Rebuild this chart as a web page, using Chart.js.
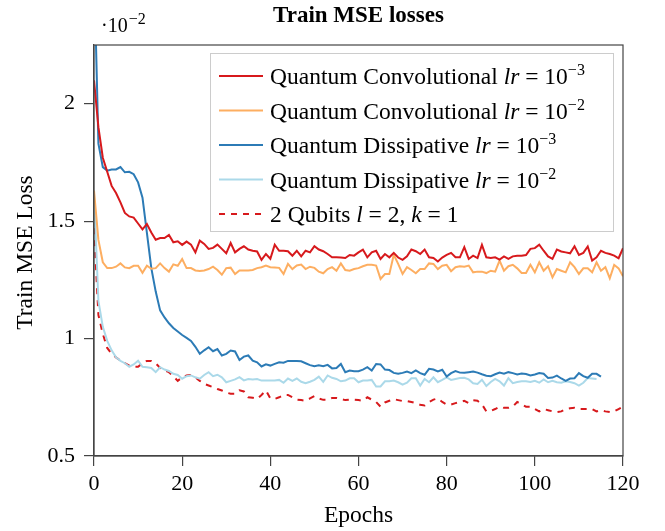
<!DOCTYPE html>
<html>
<head>
<meta charset="utf-8">
<script src="https://cdn.jsdelivr.net/npm/chart.js@4/dist/chart.umd.min.js"></script>
<style>
  html, body { margin: 0; padding: 0; background: #fff; }
  #wrap { width: 665px; height: 531px; position: relative; }
</style>
</head>
<body>
<div id="wrap"><canvas id="myChart"></canvas></div>
<script>
// epochs 0..120 (x positions)
const epochs = Array.from({length: 121}, (_, i) => i);
const xTicks = [0, 20, 40, 60, 80, 100, 120];
const yTicks = [0.5, 1, 1.5, 2];

// values in units of 1e-2
const convLr3 = [
  2.10, 1.90, 1.77, 1.71, 1.65, 1.62, 1.58, 1.535, 1.52, 1.515, 1.49, 1.465, 1.488, 1.452, 1.421, 1.428, 1.428, 1.441, 1.410, 1.414,
  1.399, 1.413, 1.40, 1.367, 1.417, 1.403, 1.382, 1.386, 1.400, 1.382, 1.363, 1.407, 1.367, 1.382, 1.393, 1.379, 1.374, 1.371,
  1.335, 1.36, 1.34, 1.40, 1.374, 1.374, 1.372, 1.353, 1.374, 1.350, 1.374, 1.367, 1.393, 1.379, 1.372, 1.36, 1.346, 1.346,
  1.345, 1.343, 1.356, 1.353, 1.367, 1.379, 1.346, 1.367, 1.374, 1.339, 1.360, 1.346, 1.365, 1.345, 1.335, 1.350, 1.379, 1.372,
  1.360, 1.379, 1.346, 1.343, 1.328, 1.345, 1.356,
  1.365, 1.346, 1.346, 1.389, 1.339, 1.353, 1.343, 1.399, 1.346, 1.343, 1.346, 1.336, 1.350, 1.339, 1.350, 1.353, 1.353, 1.356,
  1.382, 1.385, 1.400, 1.374, 1.350, 1.339, 1.379, 1.371, 1.367, 1.363, 1.393, 1.356, 1.365, 1.392, 1.332, 1.346, 1.374, 1.365,
  1.360, 1.353, 1.342, 1.385
];
const convLr2 = [
  1.63, 1.42, 1.325, 1.30, 1.30, 1.306, 1.32, 1.303, 1.30, 1.31, 1.31, 1.28, 1.31, 1.297, 1.30, 1.32, 1.30, 1.285, 1.316, 1.31,
  1.339, 1.30, 1.30, 1.29, 1.288, 1.29, 1.296, 1.306, 1.292, 1.272, 1.30, 1.302, 1.275, 1.29, 1.29, 1.29, 1.292, 1.30,
  1.304, 1.311, 1.304, 1.303, 1.301, 1.275, 1.318, 1.296, 1.311, 1.315, 1.296, 1.306, 1.301, 1.285, 1.278, 1.296, 1.304, 1.289,
  1.320, 1.292, 1.289, 1.296, 1.300, 1.308, 1.314, 1.314, 1.311, 1.254, 1.275, 1.275, 1.357, 1.318, 1.275, 1.304, 1.292, 1.278,
  1.296, 1.296, 1.320, 1.318, 1.296, 1.310, 1.314,
  1.287, 1.304, 1.308, 1.306, 1.311, 1.282, 1.285, 1.285, 1.279, 1.289, 1.285, 1.332, 1.289, 1.308, 1.314, 1.299, 1.279, 1.279,
  1.314, 1.282, 1.325, 1.289, 1.308, 1.261, 1.296, 1.289, 1.282, 1.325, 1.304, 1.275, 1.299, 1.299, 1.282, 1.325, 1.289, 1.304,
  1.257, 1.314, 1.299, 1.265
];
const dissLr3 = [
  2.6, 1.83, 1.73, 1.715, 1.72, 1.72, 1.73, 1.708, 1.71, 1.70, 1.665, 1.60, 1.45, 1.30, 1.20, 1.12, 1.09, 1.065, 1.045, 1.03,
  1.015, 1.003, 0.99, 0.965, 0.935, 0.95, 0.963, 0.946, 0.955, 0.928, 0.935, 0.949, 0.945, 0.909, 0.923, 0.928, 0.906, 0.899,
  0.881, 0.89,
  0.885, 0.892, 0.899, 0.897, 0.905, 0.905, 0.904, 0.903, 0.895, 0.887, 0.882, 0.886, 0.882, 0.888, 0.873, 0.875, 0.892, 0.857,
  0.864, 0.861, 0.861, 0.868, 0.878, 0.864, 0.892, 0.89, 0.868, 0.866, 0.854, 0.85, 0.854, 0.86, 0.853, 0.864, 0.853, 0.846,
  0.871, 0.868, 0.86, 0.867, 0.838,
  0.853, 0.862, 0.855, 0.854, 0.857, 0.86, 0.855, 0.848, 0.842, 0.84, 0.848, 0.855, 0.85, 0.857, 0.853, 0.847, 0.851, 0.849,
  0.843, 0.847, 0.853, 0.85, 0.832, 0.834, 0.842, 0.83, 0.82, 0.83, 0.831, 0.853, 0.84, 0.833, 0.85, 0.85, 0.838
];
const dissLr2 = [
  1.62, 1.16, 1.05, 0.99, 0.95, 0.92, 0.905, 0.895, 0.88, 0.89, 0.906, 0.88, 0.878, 0.875, 0.857, 0.878, 0.868, 0.862, 0.85, 0.845,
  0.829, 0.84, 0.843, 0.835, 0.829, 0.845, 0.857, 0.84, 0.846, 0.835, 0.814, 0.82, 0.826, 0.836, 0.822, 0.828, 0.826, 0.828,
  0.821, 0.822,
  0.822, 0.821, 0.824, 0.812, 0.83, 0.82, 0.83, 0.816, 0.81, 0.816, 0.824, 0.838, 0.816, 0.843, 0.833, 0.828, 0.818, 0.821,
  0.831, 0.831, 0.814, 0.821, 0.821, 0.824, 0.796, 0.796, 0.818, 0.818, 0.821, 0.814, 0.804, 0.812, 0.831, 0.831, 0.80, 0.828,
  0.814, 0.835, 0.814, 0.824, 0.835,
  0.824, 0.828, 0.832, 0.833, 0.826, 0.81, 0.807, 0.825, 0.798, 0.815, 0.828, 0.818, 0.80, 0.831, 0.81, 0.815, 0.818, 0.818,
  0.815, 0.82, 0.812, 0.826, 0.814, 0.82, 0.814, 0.812, 0.818, 0.815, 0.81, 0.80, 0.812, 0.832, 0.83, 0.828
];
const qubits2 = [
  1.47, 1.10, 1.02, 0.96, 0.935, 0.92, 0.906, 0.895, 0.885, 0.88, 0.88, 0.895, 0.905, 0.905, 0.895, 0.875, 0.865, 0.857, 0.84, 0.82,
  0.835, 0.843, 0.845, 0.835, 0.82, 0.807, 0.80, 0.793, 0.785, 0.779, 0.77, 0.765, 0.765, 0.78, 0.775, 0.75, 0.748, 0.743, 0.76, 0.779,
  0.745, 0.743, 0.75, 0.76, 0.76, 0.75, 0.74, 0.738, 0.735, 0.745, 0.755, 0.745, 0.739, 0.739, 0.747, 0.747, 0.742, 0.738, 0.74, 0.74,
  0.738, 0.735, 0.75, 0.74, 0.73, 0.71, 0.728, 0.735, 0.742, 0.738, 0.734, 0.734, 0.73, 0.725, 0.718, 0.715, 0.73, 0.74, 0.745, 0.73,
  0.719, 0.719, 0.725, 0.73, 0.735, 0.725, 0.737, 0.735, 0.72, 0.69, 0.692, 0.70, 0.71, 0.705, 0.705, 0.71, 0.73, 0.72, 0.71, 0.71,
  0.70, 0.69, 0.70, 0.695, 0.69, 0.687, 0.69, 0.70, 0.703, 0.705, 0.70, 0.70, 0.70, 0.70, 0.69, 0.695, 0.69, 0.687, 0.69, 0.70, 0.71
];

// legend text pieces: [text, style]  r = roman, i = italic, s = superscript
const legendLabels = [
  [['Quantum Convolutional ', 'r'], ['lr', 'i'], [' = 10', 'r'], ['\u22123', 's']],
  [['Quantum Convolutional ', 'r'], ['lr', 'i'], [' = 10', 'r'], ['\u22122', 's']],
  [['Quantum Dissipative ', 'r'], ['lr', 'i'], [' = 10', 'r'], ['\u22123', 's']],
  [['Quantum Dissipative ', 'r'], ['lr', 'i'], [' = 10', 'r'], ['\u22122', 's']],
  [['2 Qubits ', 'r'], ['l', 'i'], [' = 2, ', 'r'], ['k', 'i'], [' = 1', 'r']],
];
const colors = ['#d7191c', '#fdae61', '#2c7bb6', '#abd9e9', '#d7191c'];
const dashes = [[], [], [], [], [6, 6]];
const series = [convLr3, convLr2, dissLr3, dissLr2, qubits2];

const serif = '"Liberation Serif", "Times New Roman", serif';
const axisColor = '#444';

function pts(vals) {
  return vals.map((v, i) => ({x: epochs[i], y: v}));
}

function drawParts(ctx, parts, x, y) {
  for (const [t, s] of parts) {
    if (s === 'i') ctx.font = 'italic 23.5px ' + serif;
    else if (s === 's') ctx.font = '16px ' + serif;
    else ctx.font = '23.5px ' + serif;
    ctx.fillText(t, x, s === 's' ? y - 9 : y);
    x += ctx.measureText(t).width;
  }
}

const overlay = {
  id: 'overlay',
  afterDraw(chart) {
    const ctx = chart.ctx;
    const a = chart.chartArea;
    ctx.save();
    // frame
    ctx.strokeStyle = axisColor;
    ctx.lineWidth = 1.2;
    ctx.strokeRect(a.left, a.top, a.right - a.left, a.bottom - a.top);

    ctx.fillStyle = '#000';
    ctx.textBaseline = 'alphabetic';
    // title
    ctx.font = 'bold 23px ' + serif;
    ctx.textAlign = 'center';
    ctx.fillText('Train MSE losses', (a.left + a.right) / 2, 22);
    // x axis title
    ctx.font = '23.5px ' + serif;
    ctx.fillText('Epochs', (a.left + a.right) / 2, 522);
    // y axis title
    ctx.save();
    ctx.translate(32, (a.top + a.bottom) / 2 + 2);
    ctx.rotate(-Math.PI / 2);
    ctx.fillText('Train MSE Loss', 0, 0);
    ctx.restore();

    // scale factor label
    ctx.textAlign = 'left';
    ctx.font = '20px ' + serif;
    ctx.fillText('\u00b710', 101, 32);
    const w = ctx.measureText('\u00b710').width;
    ctx.font = '16px ' + serif;
    ctx.fillText('\u22122', 101 + w + 1, 24);

    // legend
    const lx = 210, ly = 53, lw = 403, lh = 178;
    ctx.fillStyle = '#fff';
    ctx.fillRect(lx, ly, lw, lh);
    ctx.strokeStyle = '#cccccc';
    ctx.lineWidth = 1;
    ctx.strokeRect(lx + 0.5, ly + 0.5, lw, lh);
    legendLabels.forEach((parts, i) => {
      const cy = 76 + i * 34.5;
      ctx.strokeStyle = colors[i];
      ctx.lineWidth = 2;
      ctx.setLineDash(dashes[i]);
      ctx.beginPath();
      ctx.moveTo(219, cy);
      ctx.lineTo(263, cy);
      ctx.stroke();
      ctx.setLineDash([]);
      ctx.fillStyle = '#000';
      drawParts(ctx, parts, 270, cy + 8);
    });
    ctx.restore();
  }
};

const ctx = document.getElementById('myChart');
new Chart(ctx, {
  type: 'line',
  data: {
    datasets: series.map((vals, i) => ({
      data: pts(vals),
      borderColor: colors[i],
      borderWidth: 2,
      borderDash: dashes[i],
      pointRadius: 0,
      fill: false,
      tension: 0,
    })),
  },
  options: {
    responsive: true,
    maintainAspectRatio: false,
    animation: false,
    layout: { padding: { left: 0, top: 45, right: 42, bottom: 0 } },
    plugins: { legend: { display: false }, tooltip: { enabled: false }, title: { display: false } },
    scales: {
      x: {
        type: 'linear',
        min: 0,
        max: 120,
        afterBuildTicks(s) { s.ticks = xTicks.map(v => ({value: v})); },
        afterFit(s) { s.height = 75; },
        ticks: { font: { family: serif, size: 22 }, color: '#000', padding: 5, maxRotation: 0,
                 callback: v => String(v) },
        grid: { drawOnChartArea: false, tickLength: 10, color: axisColor, lineWidth: 1.2 },
        border: { color: axisColor, width: 1.2 },
      },
      y: {
        type: 'linear',
        min: 0.5,
        max: 2.25,
        afterBuildTicks(s) { s.ticks = yTicks.map(v => ({value: v})); },
        afterFit(s) { s.width = 94; },
        ticks: { font: { family: serif, size: 22 }, color: '#000', padding: 9,
                 callback: v => String(v) },
        grid: { drawOnChartArea: false, tickLength: 10, color: axisColor, lineWidth: 1.2 },
        border: { color: axisColor, width: 1.2 },
      },
    },
  },
  plugins: [overlay],
});
</script>
</body>
</html>
